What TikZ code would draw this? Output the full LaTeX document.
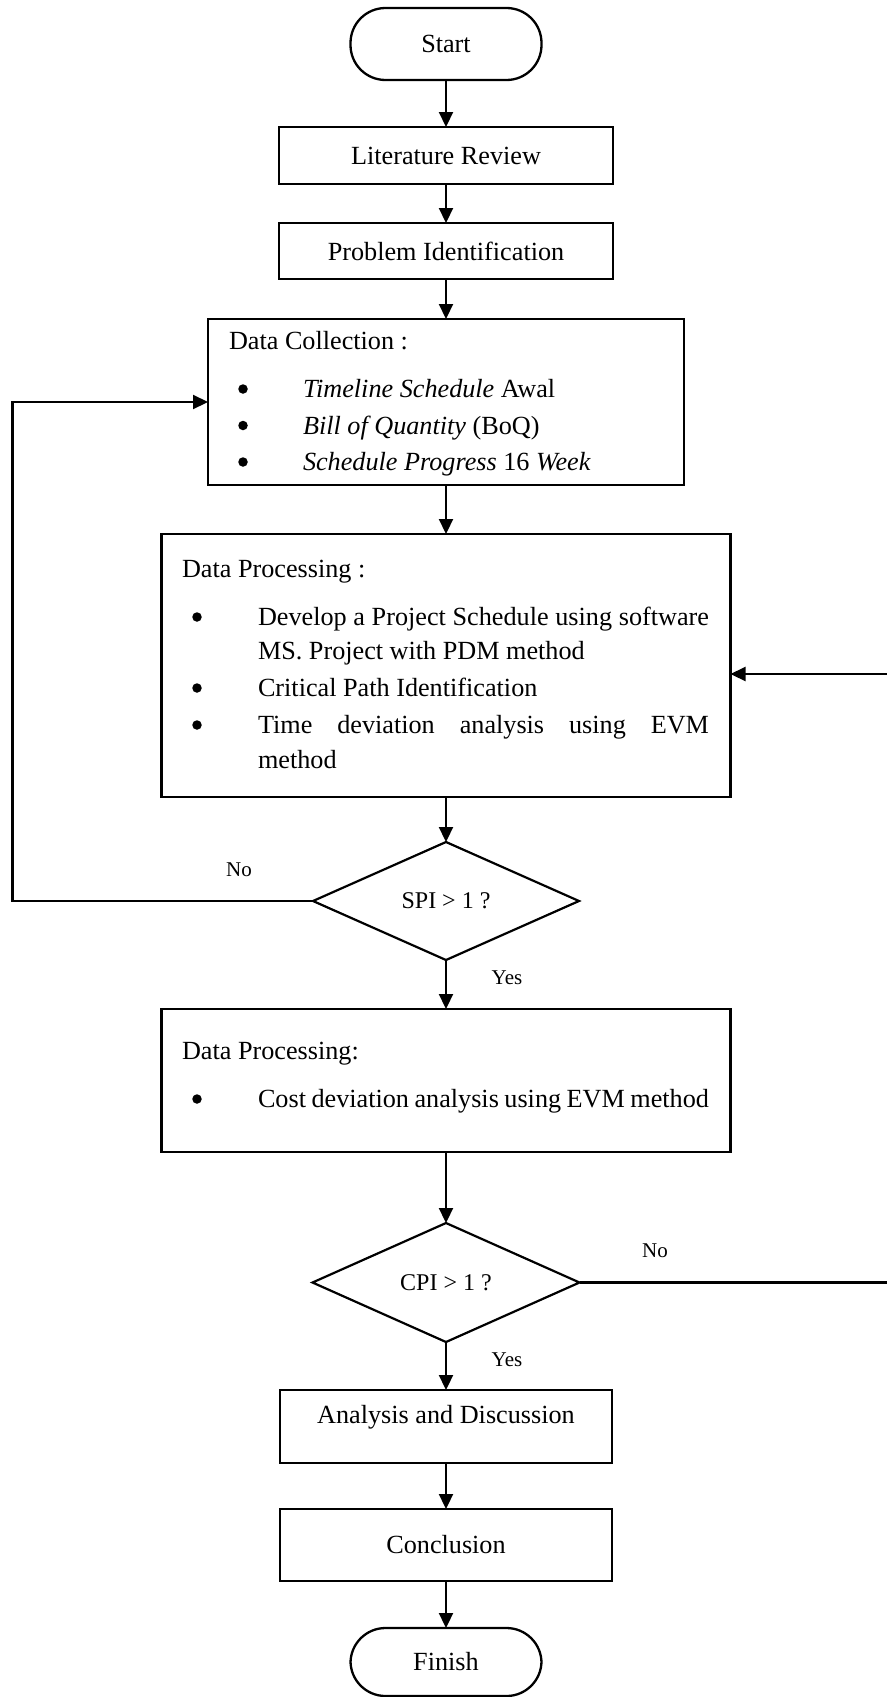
\documentclass[tikz,border=0pt]{standalone}
\usepackage{fontspec}
\setmainfont{Liberation Serif}
\usetikzlibrary{shapes.geometric,arrows.meta}
\begin{document}
\begin{tikzpicture}[x=1pt,y=-1pt,
  box/.style={draw, rectangle, line width=2.3pt, inner sep=0pt, outer sep=0pt,
              font=\fontsize{26.2pt}{36pt}\selectfont},
  term/.style={box, rounded corners=35pt},
  dec/.style={draw, diamond, line width=2.2pt, inner sep=0pt, outer sep=0pt,
              font=\fontsize{24pt}{28pt}\selectfont},
  arr/.style={line width=2.2pt, -{Triangle[length=15pt,width=14pt]}},
  ln/.style={line width=2.2pt},
  txt/.style={inner sep=0pt, outer sep=0pt, anchor=base west,
              font=\fontsize{26.2pt}{36pt}\selectfont},
  bul/.style={circle, fill=black, inner sep=0pt, outer sep=0pt, minimum size=9.5pt},
  lab/.style={inner sep=0pt, outer sep=0pt, font=\fontsize{21pt}{25pt}\selectfont}
]
\useasboundingbox[fill=white] (0,0) rectangle (886,1697);

% main flow nodes
\node[term, minimum width=191pt, minimum height=72pt] (start) at (446,44) {Start};
\node[box, minimum width=334pt, minimum height=57pt] (lr) at (446,155.5) {Literature Review};
\node[box, minimum width=334pt, minimum height=56pt] (pi) at (446,251) {Problem Identification};
\node[box, minimum width=476pt, minimum height=166pt] (dc) at (446,402) {};
\node[box, minimum width=569pt, minimum height=263pt] (dp) at (446,665.5) {};
\node[dec, minimum width=266pt, minimum height=118pt] (spi) at (446,901) {SPI > 1 ?};
\node[box, minimum width=569pt, minimum height=143pt] (dp2) at (446,1080.5) {};
\node[dec, minimum width=267pt, minimum height=119pt] (cpi) at (446,1282.5) {CPI > 1 ?};
\node[box, minimum width=332pt, minimum height=73pt] (ad) at (446,1426.5) {};
\node[box, minimum width=332pt, minimum height=72pt] (conc) at (446,1545) {Conclusion};
\node[term, minimum width=191pt, minimum height=68pt] (finish) at (446,1662) {Finish};

% texts of Data Collection
\node[txt] (dch) at (229,349.5) {Data Collection :};
\node[bul] (dcb1) at (243,389) {};
\node[bul] (dcb2) at (243,425.5) {};
\node[bul] (dcb3) at (243,462) {};
\node[txt] (dc1) at (303,397.5) {\textit{Timeline Schedule} Awal};
\node[txt] (dc2) at (303,434) {\textit{Bill of Quantity} (BoQ)};
\node[txt] (dc3) at (303,470.5) {\textit{Schedule Progress} 16 \textit{Week}};

% texts of Data Processing
\node[txt] (dph) at (182,577.5) {Data Processing :};
\node[bul] (dpb1) at (197,617) {};
\node[bul] (dpb2) at (197,688) {};
\node[bul] (dpb3) at (197,725) {};
\node[txt] (dp1) at (258,625.5) {\makebox[451pt][s]{Develop a Project Schedule using software}};
\node[txt] (dp2a) at (258,659.5) {MS. Project with PDM method};
\node[txt] (dp3) at (258,696.5) {Critical Path Identification};
\node[txt] (dp4) at (258,733.5) {\makebox[451pt][s]{Time deviation analysis using EVM}};
\node[txt] (dp5) at (258,768.5) {method};

% texts of second Data Processing
\node[txt] (dqh) at (182,1059.5) {Data Processing:};
\node[bul] (dqb1) at (197,1099) {};
\node[txt] (dq1) at (258,1107.5) {\makebox[451pt][s]{Cost deviation analysis using EVM method}};

% text of Analysis box
\node[txt, anchor=center] (adt) at (446,1417) {Analysis and Discussion};

% labels
\node[lab] (no1) at (239,870) {No};
\node[lab] (yes1) at (507,978) {Yes};
\node[lab] (no2) at (655,1251) {No};
\node[lab] (yes2) at (507,1360) {Yes};

% helper coordinates
\coordinate (L1) at (12.5,901);
\coordinate (R1) at (892,1282.5);
\coordinate (R2) at (892,674);

% connectors
\draw[arr] (start) -- (lr);
\draw[arr] (lr) -- (pi);
\draw[arr] (pi) -- (dc);
\draw[arr] (dc) -- (dp);
\draw[arr] (dp) -- (spi);
\draw[arr] (spi.west) -- (L1) |- (dc.west);
\draw[arr] (spi) -- (dp2);
\draw[arr] (dp2) -- (cpi);
\draw[ln] (cpi.east) -- (R1);
\draw[arr] (R1) -- (R2) -- (R2 -| dp.east);
\draw[arr] (cpi) -- (ad);
\draw[arr] (ad) -- (conc);
\draw[arr] (conc) -- (finish);
\end{tikzpicture}
\end{document}
